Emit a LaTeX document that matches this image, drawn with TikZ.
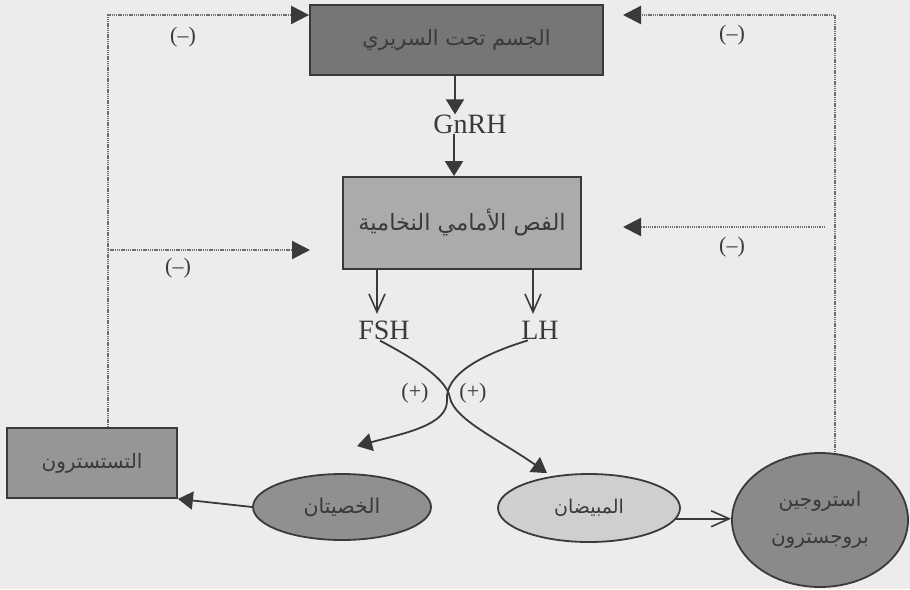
\documentclass[tikz,border=0pt]{standalone}
\usepackage{fontspec}
\setmainfont{Liberation Serif}
\newfontfamily\arabicfont[Script=Arabic]{DejaVu Sans}
\TeXXeTstate=1
\usetikzlibrary{arrows.meta,shapes.geometric}

\definecolor{paper}{HTML}{ECECEC}
\definecolor{ink}{HTML}{3A3A3A}
\definecolor{hypofill}{HTML}{767676}
\definecolor{pitfill}{HTML}{ABABAB}
\definecolor{testofill}{HTML}{969696}
\definecolor{testesfill}{HTML}{909090}
\definecolor{ovfill}{HTML}{CFCFCF}
\definecolor{estrofill}{HTML}{8A8A8A}
\definecolor{fbline}{HTML}{6E6E6E}

\newcommand{\ar}[1]{{\arabicfont\beginR #1\endR}}

\begin{document}
\begin{tikzpicture}[x=1pt,y=-1pt,
  organ/.style={draw=ink, line width=1.8pt, inner sep=0pt, align=center, text=ink},
  rectbox/.style={organ, rectangle},
  oval/.style={organ, ellipse},
  hormone/.style={inner sep=0pt, text=ink, font=\fontsize{28}{30}\selectfont},
  sign/.style={inner sep=0pt, text=ink, font=\fontsize{22}{24}\selectfont},
  solidarr/.style={draw=ink, line width=1.8pt, -{Triangle[length=15pt,width=18pt]}},
  openarr/.style={draw=ink, line width=1.6pt, -{Straight Barb[length=18pt,width=16pt,line width=1.6pt]}},
  fb/.style={draw=fbline, line width=2.2pt, dash pattern=on 1.3pt off 0.9pt},
  fbarr/.style={fb, -{Triangle[length=18pt,width=18pt,color=ink]}}
]
% paper
\fill[paper] (0,0) rectangle (910,589);
\useasboundingbox (0,0) rectangle (910,589);

% organs
\node[rectbox, fill=hypofill, minimum width=293pt, minimum height=70pt,
      font=\fontsize{21}{24}\selectfont] (hypo) at (456.5,40) {\ar{الجسم تحت السريري}};
\node[rectbox, fill=pitfill, minimum width=238pt, minimum height=92pt,
      font=\fontsize{22.5}{26}\selectfont] (pit) at (462,223) {\ar{الفص الأمامي النخامية}};
\node[rectbox, fill=testofill, minimum width=170pt, minimum height=70pt,
      font=\fontsize{20}{22}\selectfont] (testo) at (92,463) {\ar{التستسترون}};
\node[oval, fill=testesfill, minimum width=178pt, minimum height=66pt,
      font=\fontsize{20.5}{24}\selectfont] (testes) at (342,507) {\ar{الخصيتان}};
\node[oval, fill=ovfill, minimum width=182pt, minimum height=68pt,
      font=\fontsize{19}{22}\selectfont] (ovaries) at (589,508) {\ar{المبيضان}};
\node[oval, fill=estrofill, minimum width=176pt, minimum height=134pt,
      font=\fontsize{20}{37}\selectfont] (estro) at (820,520) {\ar{استروجين}\\\ar{بروجسترون}};

% hormones
\node[hormone] (gnrh) at (470,124) {GnRH};
\node[hormone] (fsh) at (384,330) {FSH};
\node[hormone] (lh) at (540,330) {LH};

% signs
\node[sign] (m1) at (183,37) {(–)};
\node[sign] (m2) at (732,35) {(–)};
\node[sign] (m3) at (178,268) {(–)};
\node[sign] (m4) at (732,247) {(–)};
\node[sign] (p1) at (415,393) {(+)};
\node[sign] (p2) at (473,393) {(+)};

% corners and ends of the feedback loops
\coordinate (lt) at (108,15);
\coordinate (li) at (108,250);
\coordinate (lti) at (310,250);
\coordinate (rt) at (835,15);
\coordinate (rtt) at (623,15);
\coordinate (ri) at (825,227);
\coordinate (rti) at (623,227);

% GnRH pathway
\draw[solidarr] ([xshift=-1.5pt]hypo.south) -- ([xshift=-1.5pt]hypo.south |- gnrh.north);
\draw[solidarr] ([xshift=-16pt]gnrh.south) -- ([xshift=-16pt]gnrh.south |- pit.north);

% pituitary outputs
\draw[openarr] ([xshift=-85pt]pit.south) -- ++(0,44);
\draw[openarr] ([xshift=71pt]pit.south) -- ++(0,44);

% crossing curves to the gonads
\draw[solidarr] ([xshift=-4pt,yshift=-1pt]fsh.south) .. controls (420,362) and (447,380) .. (450,398)
      .. controls (455,420) and (500,440) .. ([xshift=-42pt]ovaries.north);
\draw[solidarr] ([xshift=-12pt,yshift=-1pt]lh.south) .. controls (480,355) and (445,375) .. (447,400)
      .. controls (448,425) and (405,433) .. ([xshift=15pt,yshift=27pt]testes.north);

% gonads to their hormones
\draw[solidarr] (testes.west) -- (testo.south east);
\draw[openarr] (ovaries.-7) -- (ovaries.-7 -| estro.west);

% negative feedback
\draw[fbarr] (testo.north -| lt) -- (lt) -- (lt -| hypo.west);
\draw[fbarr] (li) -- (lti);
\draw[fbarr] (estro.north -| rt) -- (rt) -- (rtt);
\draw[fbarr] (ri) -- (rti);
\end{tikzpicture}
\end{document}
